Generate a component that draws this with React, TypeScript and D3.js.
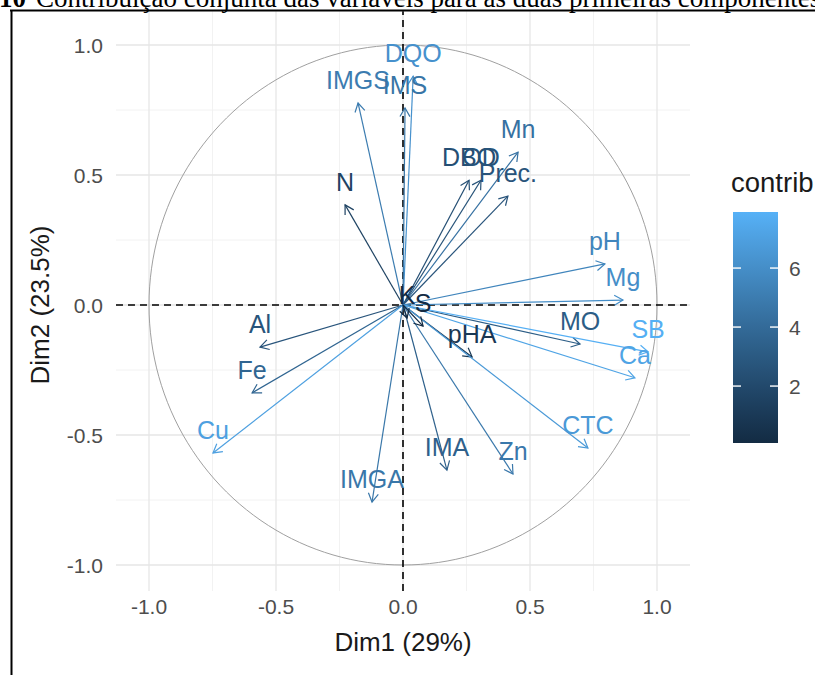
import React, { useEffect, useRef } from "react";
import * as d3 from "d3";

// variables of the PCA correlation circle
const variables = ["Al", "Fe", "Cu", "IMGA", "N", "IMGS", "DQO", "IMS", "Mn", "DBO", "OD", "Prec.", "pH", "Mg", "MO", "SB", "Ca", "pHA", "CTC", "Zn", "IMA", "S", "K"];
const dim1 = [-0.563, -0.594, -0.748, -0.122, -0.228, -0.177, 0.04, 0.008, 0.453, 0.26, 0.307, 0.413, 0.795, 0.866, 0.697, 0.965, 0.913, 0.272, 0.728, 0.433, 0.173, 0.079, 0.016];
const dim2 = [-0.162, -0.338, -0.569, -0.758, 0.385, 0.777, 0.88, 0.758, 0.588, 0.48, 0.48, 0.419, 0.158, 0.019, -0.15, -0.18, -0.28, -0.2, -0.55, -0.65, -0.635, -0.081, -0.05];
const contrib = [2.7, 3.7, 7.0, 4.7, 1.6, 5.0, 6.2, 4.6, 4.4, 2.4, 2.6, 2.7, 5.5, 6.0, 3.2, 7.8, 7.2, 0.9, 6.6, 4.8, 3.4, 0.1, 0.07];

const axisTicks = [-1, -0.5, 0, 0.5, 1];
const minorTicks = [-0.75, -0.25, 0.25, 0.75];
const legendTicks = [2, 4, 6];
const contribRange = [0.07, 7.9];

const xTitle = "Dim1 (29%)";
const yTitle = "Dim2 (23.5%)";
const legendTitle = "contrib";
const captionNum = "10";
const caption = "Contribuição conjunta das variáveis para as duas primeiras componentes";

const W = 815;
const H = 675;
const FONT = "Liberation Sans, Arial, sans-serif";
const SERIF = "Liberation Serif, Times New Roman, serif";

const App = () => {
  const ref = useRef<SVGSVGElement>(null);

  useEffect(() => {
    const svg = d3.select(ref.current);
    svg.selectAll("*").remove();

    const x = d3.scaleLinear().domain([-1, 1]).range([149, 657]);
    const y = d3.scaleLinear().domain([-1, 1]).range([565, 45]);
    const xLim = [-1.13, 1.13];
    const yLim = [-1.1, 1.13];

    const color = d3
      .scaleLinear<string>()
      .domain(contribRange)
      .range(["#132B43", "#56B1F7"])
      .interpolate(d3.interpolateLab);

    svg.append("rect").attr("width", W).attr("height", H).attr("fill", "#fff");

    // grid
    const grid = svg.append("g");
    minorTicks.forEach((t) => {
      grid.append("line").attr("x1", x(t)).attr("x2", x(t)).attr("y1", y(yLim[0])).attr("y2", y(yLim[1]))
        .attr("stroke", "#f0f0f0").attr("stroke-width", 0.9);
      grid.append("line").attr("y1", y(t)).attr("y2", y(t)).attr("x1", x(xLim[0])).attr("x2", x(xLim[1]))
        .attr("stroke", "#f0f0f0").attr("stroke-width", 0.9);
    });
    axisTicks.forEach((t) => {
      grid.append("line").attr("x1", x(t)).attr("x2", x(t)).attr("y1", y(yLim[0])).attr("y2", y(yLim[1]))
        .attr("stroke", "#e6e6e6").attr("stroke-width", 1.3);
      grid.append("line").attr("y1", y(t)).attr("y2", y(t)).attr("x1", x(xLim[0])).attr("x2", x(xLim[1]))
        .attr("stroke", "#e6e6e6").attr("stroke-width", 1.3);
    });

    // unit circle
    const angles = d3.range(0, 361, 2);
    svg.append("path")
      .datum(angles)
      .attr("fill", "none")
      .attr("stroke", "#a0a0a0")
      .attr("stroke-width", 1)
      .attr("d", d3.line<number>()
        .x((a) => x(Math.cos((a * Math.PI) / 180)))
        .y((a) => y(Math.sin((a * Math.PI) / 180))));

    // dashed axes
    svg.append("line").attr("x1", x(xLim[0])).attr("x2", x(xLim[1])).attr("y1", y(0)).attr("y2", y(0))
      .attr("stroke", "#000").attr("stroke-width", 1.6).attr("stroke-dasharray", "7,5");
    svg.append("line").attr("x1", x(0)).attr("x2", x(0)).attr("y1", y(yLim[0])).attr("y2", y(yLim[1]))
      .attr("stroke", "#000").attr("stroke-width", 1.6).attr("stroke-dasharray", "7,5");

    // arrows
    const data = variables.map((name, i) => ({ name, x: dim1[i], y: dim2[i], c: contrib[i] }));
    const arrows = svg.append("g");
    const head = 10;
    data.forEach((d) => {
      const x0 = x(0), y0 = y(0), x1 = x(d.x), y1 = y(d.y);
      const ang = Math.atan2(y1 - y0, x1 - x0);
      const col = color(d.c);
      arrows.append("line").attr("x1", x0).attr("y1", y0).attr("x2", x1).attr("y2", y1)
        .attr("stroke", col).attr("stroke-width", 1.2);
      const p = d3.path();
      p.moveTo(x1 - head * Math.cos(ang - Math.PI / 6), y1 - head * Math.sin(ang - Math.PI / 6));
      p.lineTo(x1, y1);
      p.lineTo(x1 - head * Math.cos(ang + Math.PI / 6), y1 - head * Math.sin(ang + Math.PI / 6));
      arrows.append("path").attr("d", p.toString()).attr("fill", "none")
        .attr("stroke", col).attr("stroke-width", 1.2);
    });
    const labels = svg.append("g");
    data.forEach((d) => {
      labels.append("text")
        .attr("x", x(d.x))
        .attr("y", y(d.y) - 14)
        .attr("text-anchor", "middle")
        .attr("font-family", FONT)
        .attr("font-size", 25)
        .attr("fill", color(d.c))
        .text(d.name);
    });

    // axis labels (plain hyphen for negatives, as in the reference)
    const fmt = (t: number) => t.toFixed(1);
    axisTicks.forEach((t) => {
      svg.append("text").attr("x", x(t)).attr("y", 614).attr("text-anchor", "middle")
        .attr("font-family", FONT).attr("font-size", 21).attr("fill", "#4d4d4d")
        .text(fmt(t));
      svg.append("text").attr("x", 103).attr("y", y(t)).attr("dy", "0.36em").attr("text-anchor", "end")
        .attr("font-family", FONT).attr("font-size", 21).attr("fill", "#4d4d4d")
        .text(fmt(t));
    });
    svg.append("text").attr("x", x(0)).attr("y", 651).attr("text-anchor", "middle")
      .attr("font-family", FONT).attr("font-size", 26).attr("fill", "#1a1a1a").text(xTitle);
    svg.append("text").attr("transform", `translate(49,${y(0)}) rotate(-90)`).attr("text-anchor", "middle")
      .attr("font-family", FONT).attr("font-size", 26).attr("fill", "#1a1a1a").text(yTitle);

    // legend colour bar
    const ly = d3.scaleLinear().domain(contribRange).range([443, 212]);
    const grad = svg.append("defs").append("linearGradient").attr("id", "contribGrad")
      .attr("x1", "0%").attr("y1", "100%").attr("x2", "0%").attr("y2", "0%");
    d3.range(0, 1.01, 0.1).forEach((s) => {
      grad.append("stop").attr("offset", `${s * 100}%`)
        .attr("stop-color", color(contribRange[0] + s * (contribRange[1] - contribRange[0])));
    });
    svg.append("rect").attr("x", 733).attr("y", ly(contribRange[1])).attr("width", 45)
      .attr("height", ly(contribRange[0]) - ly(contribRange[1])).attr("fill", "url(#contribGrad)");
    legendTicks.forEach((t) => {
      svg.append("line").attr("x1", 733).attr("x2", 741).attr("y1", ly(t)).attr("y2", ly(t))
        .attr("stroke", "#fff").attr("stroke-width", 1.4);
      svg.append("line").attr("x1", 770).attr("x2", 778).attr("y1", ly(t)).attr("y2", ly(t))
        .attr("stroke", "#fff").attr("stroke-width", 1.4);
      svg.append("text").attr("x", 789).attr("y", ly(t)).attr("dy", "0.36em")
        .attr("font-family", FONT).attr("font-size", 21).attr("fill", "#4d4d4d").text(t);
    });
    svg.append("text").attr("x", 731).attr("y", 192)
      .attr("font-family", FONT).attr("font-size", 27.5).attr("fill", "#1a1a1a").text(legendTitle);

    // document frame and clipped caption
    svg.append("text").attr("x", -1).attr("y", 7).attr("font-family", SERIF)
      .attr("font-weight", "bold").attr("font-size", 27).attr("fill", "#000").text(captionNum);
    svg.append("text").attr("x", 36).attr("y", 7).attr("font-family", SERIF)
      .attr("font-size", 27).attr("fill", "#000").text(caption);
    svg.append("line").attr("x1", 10).attr("x2", W).attr("y1", 10.5).attr("y2", 10.5)
      .attr("stroke", "#000").attr("stroke-width", 2);
    svg.append("line").attr("x1", 11.5).attr("x2", 11.5).attr("y1", 10).attr("y2", H)
      .attr("stroke", "#000").attr("stroke-width", 2);
  }, []);

  return (
    <svg
      ref={ref}
      width={W}
      height={H}
      style={{ position: "absolute", left: 0, top: 0, display: "block" }}
    />
  );
};

export default App;
